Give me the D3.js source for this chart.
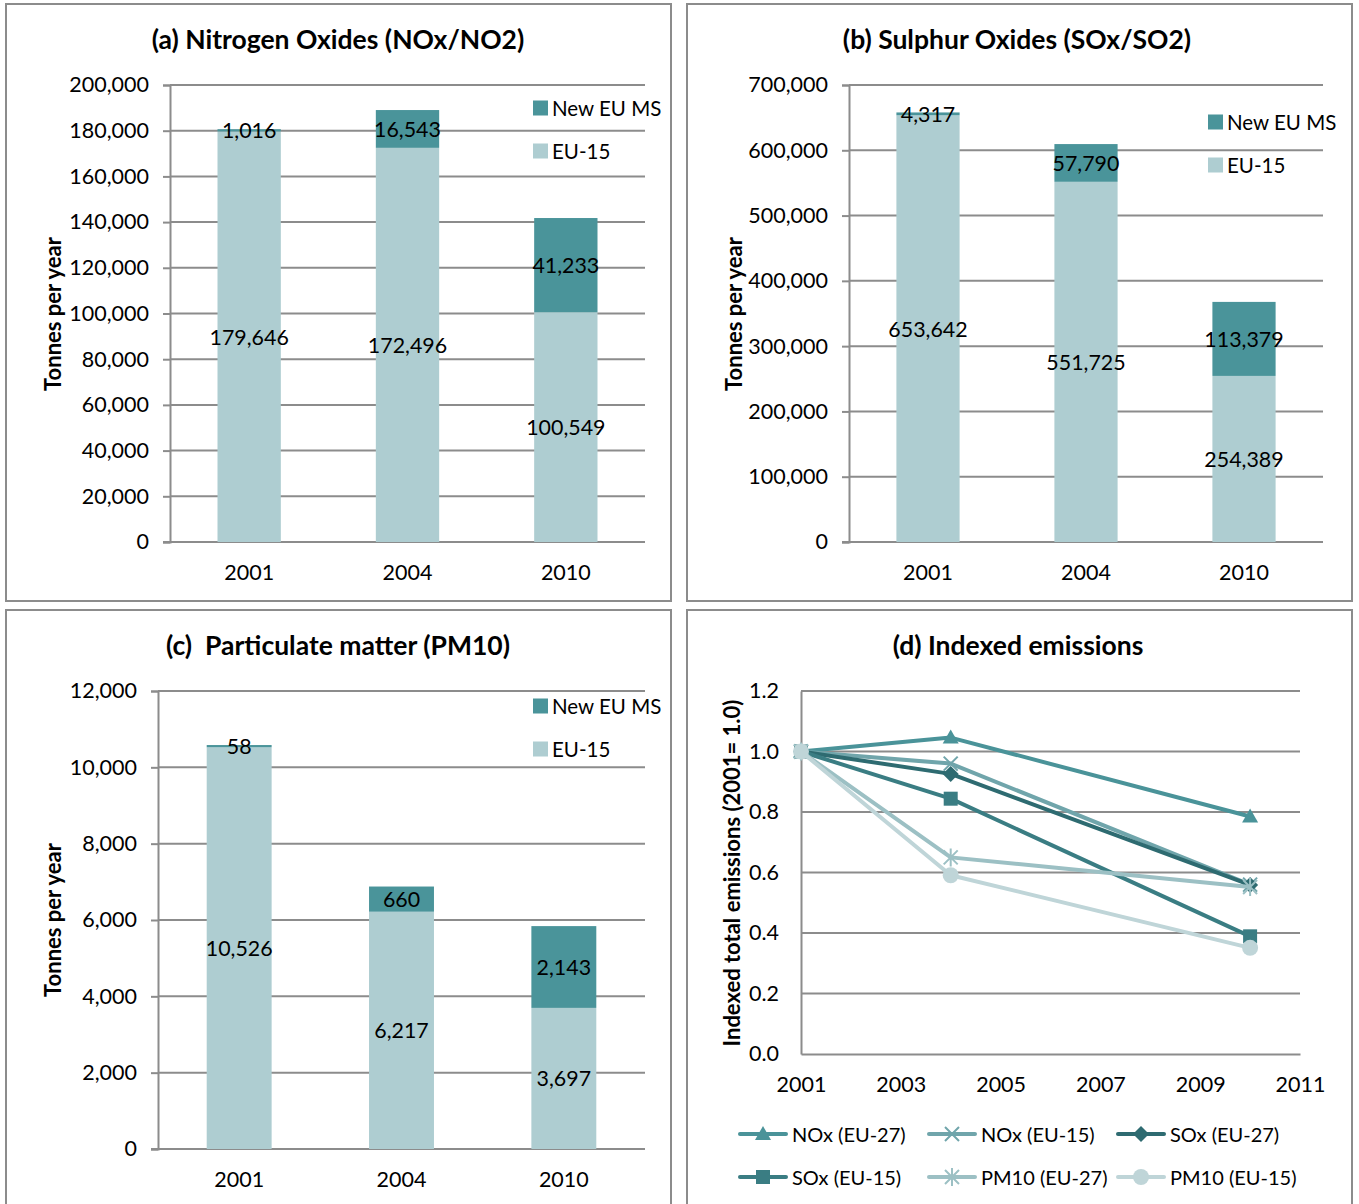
<!DOCTYPE html>
<html>
<head>
<meta charset="utf-8">
<script src="https://cdn.jsdelivr.net/npm/d3@7"></script>
<style>
  html, body { margin: 0; padding: 0; background: #fff; }
  svg { display: block; font-family: Lato, "Open Sans", sans-serif; }
  text { white-space: pre; }
</style>
</head>
<body>
<svg id="chart" width="1359" height="1204"></svg>
<script>
// ---- data ----
const years = ["2001", "2004", "2010"];

const noxEU15 = [179646, 172496, 100549];
const noxNewMS = [1016, 16543, 41233];
const noxTicks = [0, 20000, 40000, 60000, 80000, 100000, 120000, 140000, 160000, 180000, 200000];

const soxEU15 = [653642, 551725, 254389];
const soxNewMS = [4317, 57790, 113379];
const soxTicks = [0, 100000, 200000, 300000, 400000, 500000, 600000, 700000];

const pmEU15 = [10526, 6217, 3697];
const pmNewMS = [58, 660, 2143];
const pmTicks = [0, 2000, 4000, 6000, 8000, 10000, 12000];

const indexYears = [2001, 2004, 2010];
const indexSeries = ["NOx (EU-27)", "NOx (EU-15)", "SOx (EU-27)", "SOx (EU-15)", "PM10 (EU-27)", "PM10 (EU-15)"];
const noxEU27Index = [1.0, 1.046, 0.785];
const noxEU15Index = [1.0, 0.960, 0.560];
const soxEU27Index = [1.0, 0.926, 0.559];
const soxEU15Index = [1.0, 0.844, 0.389];
const pm10EU27Index = [1.0, 0.650, 0.552];
const pm10EU15Index = [1.0, 0.591, 0.351];
const indexYTicks = [0, 0.2, 0.4, 0.6, 0.8, 1.0, 1.2];
const indexXTicks = [2001, 2003, 2005, 2007, 2009, 2011];

// ---- styling ----
const COL_NEW = "#4a949a";
const COL_EU15 = "#aecdd1";
const GRID = "#8c8c8c";
const FRAME = "#8c8c8c";
const TEXT = "#000";
const TICK_FS = 21.5;
const LABEL_FS = 21.4;

const svg = d3.select("#chart");
const fmt = d3.format(",");

function frame(x, y, w, h) {
  svg.append("rect").attr("x", x).attr("y", y).attr("width", w).attr("height", h)
    .attr("fill", "#fff").attr("stroke", FRAME).attr("stroke-width", 2);
}

function title(txt, cx, cy) {
  svg.append("text").attr("x", cx).attr("y", cy).attr("text-anchor", "middle")
    .attr("dominant-baseline", "central").attr("font-weight", 700)
    .attr("font-size", 26.5).attr("fill", TEXT).text(txt);
}

function yTitle(txt, cx, cy) {
  svg.append("text").attr("transform", `translate(${cx},${cy}) rotate(-90)`)
    .attr("text-anchor", "middle").attr("dominant-baseline", "central")
    .attr("font-weight", 700).attr("font-size", 22).attr("fill", TEXT).text(txt);
}

// Stacked bar panel: EU-15 at the base, new member states on top
function barPanel(opt) {
  const g = svg.append("g");
  const x = d3.scaleBand().domain(years).range([opt.x0, opt.x1]).paddingInner(0.6).paddingOuter(0.3);
  const y = d3.scaleLinear().domain([0, opt.max]).range([opt.yb, opt.yt]);

  // gridlines
  g.append("g").selectAll("line").data(opt.ticks.slice(1)).join("line")
    .attr("x1", opt.x0).attr("x2", opt.x1)
    .attr("y1", d => y(d)).attr("y2", d => y(d))
    .attr("stroke", GRID).attr("stroke-width", 2);

  // y axis
  const ya = g.append("g").attr("transform", `translate(${opt.x0},0)`)
    .call(d3.axisLeft(y).tickValues(opt.ticks).tickFormat(fmt).tickSize(7).tickPadding(14));
  ya.select(".domain").attr("stroke", GRID).attr("stroke-width", 2);
  ya.selectAll(".tick line").attr("stroke", GRID).attr("stroke-width", 2);
  ya.selectAll(".tick text").attr("font-size", TICK_FS).attr("fill", TEXT).attr("font-family", "Lato, sans-serif");

  // x axis
  const xa = g.append("g").attr("transform", `translate(0,${opt.yb})`)
    .call(d3.axisBottom(x).tickSize(0).tickPadding(23));
  xa.select(".domain").attr("stroke", GRID).attr("stroke-width", 2)
    .attr("d", `M${opt.x0 - 7},0H${opt.x1}`);
  xa.selectAll(".tick text").attr("font-size", TICK_FS).attr("fill", TEXT).attr("font-family", "Lato, sans-serif");

  const rows = years.map((yr, i) => ({ yr, base: opt.eu15[i], top: opt.newMS[i] }));

  g.append("g").selectAll("rect").data(rows).join("rect")
    .attr("x", d => x(d.yr)).attr("width", x.bandwidth())
    .attr("y", d => y(d.base)).attr("height", d => y(0) - y(d.base))
    .attr("fill", COL_EU15);
  g.append("g").selectAll("rect").data(rows).join("rect")
    .attr("x", d => x(d.yr)).attr("width", x.bandwidth())
    .attr("y", d => y(d.base + d.top)).attr("height", d => y(d.base) - y(d.base + d.top))
    .attr("fill", COL_NEW);

  // value labels centred in each segment
  const lab = g.append("g").attr("font-size", LABEL_FS).attr("fill", TEXT)
    .attr("text-anchor", "middle").attr("dominant-baseline", "central");
  lab.selectAll("text.b").data(rows).join("text").attr("class", "b")
    .attr("x", d => x(d.yr) + x.bandwidth() / 2).attr("y", d => y(d.base / 2))
    .text(d => fmt(d.base));
  lab.selectAll("text.t").data(rows).join("text").attr("class", "t")
    .attr("x", d => x(d.yr) + x.bandwidth() / 2).attr("y", d => y(d.base + d.top / 2))
    .text(d => fmt(d.top));

  // legend
  const lg = g.append("g");
  [["New EU MS", COL_NEW], ["EU-15", COL_EU15]].forEach(([t, c], i) => {
    const ly = opt.legY + i * opt.legGap;
    lg.append("rect").attr("x", opt.legX).attr("y", ly - 7.5).attr("width", 15).attr("height", 15).attr("fill", c);
    lg.append("text").attr("x", opt.legX + 19).attr("y", ly).attr("dominant-baseline", "central")
      .attr("font-size", 20.5).attr("fill", TEXT).text(t);
  });
}

// ---- panel (a) ----
frame(6, 4, 665, 597);
title("(a) Nitrogen Oxides (NOx/NO2)", 338, 39);
yTitle("Tonnes per year", 52, 314);
barPanel({ x0: 170, x1: 645, yt: 85, yb: 542, max: 200000, ticks: noxTicks,
  eu15: noxEU15, newMS: noxNewMS, legX: 533, legY: 108, legGap: 43 });

// ---- panel (b) ----
frame(687, 4, 665, 597);
title("(b) Sulphur Oxides (SOx/SO2)", 1017, 39);
yTitle("Tonnes per year", 733, 314);
barPanel({ x0: 849, x1: 1323, yt: 85, yb: 542, max: 700000, ticks: soxTicks,
  eu15: soxEU15, newMS: soxNewMS, legX: 1208, legY: 122, legGap: 43 });

// ---- panel (c) ----
frame(6, 610, 665, 610);
title("(c)  Particulate matter (PM10)", 338, 645);
yTitle("Tonnes per year", 52, 920);
barPanel({ x0: 158, x1: 645, yt: 691, yb: 1149, max: 12000, ticks: pmTicks,
  eu15: pmEU15, newMS: pmNewMS, legX: 533, legY: 706, legGap: 43 });

// ---- panel (d) ----
frame(687, 610, 665, 610);
title("(d) Indexed emissions", 1018, 645);
yTitle("Indexed total emissions (2001= 1.0)", 731, 873);

(function indexPanel() {
  const g = svg.append("g");
  const x0 = 801, x1 = 1300, yt = 691, yb = 1054;
  const x = d3.scaleLinear().domain([2001, 2011]).range([x0, x1]);
  const y = d3.scaleLinear().domain([0, 1.2]).range([yb, yt]);

  g.append("g").selectAll("line").data(indexYTicks.slice(1)).join("line")
    .attr("x1", x0).attr("x2", x1).attr("y1", d => y(d)).attr("y2", d => y(d))
    .attr("stroke", GRID).attr("stroke-width", 2);

  const ya = g.append("g").attr("transform", `translate(${x0},0)`)
    .call(d3.axisLeft(y).tickValues(indexYTicks).tickFormat(d3.format(".1f")).tickSize(0).tickPadding(22));
  ya.select(".domain").attr("stroke", GRID).attr("stroke-width", 2);
  ya.selectAll(".tick text").attr("font-size", TICK_FS).attr("fill", TEXT).attr("font-family", "Lato, sans-serif");

  const xa = g.append("g").attr("transform", `translate(0,${yb})`)
    .call(d3.axisBottom(x).tickValues(indexXTicks).tickFormat(d3.format("d")).tickSize(0).tickPadding(23));
  xa.select(".domain").attr("stroke", GRID).attr("stroke-width", 2);
  xa.selectAll(".tick text").attr("font-size", TICK_FS).attr("fill", TEXT).attr("font-family", "Lato, sans-serif");

  const series = [
    { name: indexSeries[0], vals: noxEU27Index, color: "#4a9399", sym: "triangle" },
    { name: indexSeries[1], vals: noxEU15Index, color: "#70a5ab", sym: "x" },
    { name: indexSeries[2], vals: soxEU27Index, color: "#2e6b71", sym: "diamond" },
    { name: indexSeries[3], vals: soxEU15Index, color: "#3a7d83", sym: "square" },
    { name: indexSeries[4], vals: pm10EU27Index, color: "#9cc0c4", sym: "asterisk" },
    { name: indexSeries[5], vals: pm10EU15Index, color: "#bfd5d8", sym: "circle" }
  ];

  function marker(sel, sym, color, cx, cy) {
    const m = sel.append("g").attr("transform", `translate(${cx},${cy})`);
    if (sym === "triangle") {
      m.append("path").attr("d", "M0,-8L8,6H-8Z").attr("fill", color);
    } else if (sym === "diamond") {
      m.append("path").attr("d", "M0,-8L8,0L0,8L-8,0Z").attr("fill", color);
    } else if (sym === "square") {
      m.append("rect").attr("x", -7).attr("y", -7).attr("width", 14).attr("height", 14).attr("fill", color);
    } else if (sym === "circle") {
      m.append("circle").attr("r", 8).attr("fill", color);
    } else if (sym === "x") {
      m.append("path").attr("d", "M-7,-7L7,7M-7,7L7,-7").attr("stroke", color).attr("stroke-width", 2).attr("fill", "none");
    } else if (sym === "asterisk") {
      m.append("path").attr("d", "M-7,-7L7,7M-7,7L7,-7M0,-9V9").attr("stroke", color).attr("stroke-width", 2).attr("fill", "none");
    }
  }

  const line = d3.line().x(d => x(d.yr)).y(d => y(d.v));
  series.forEach(s => {
    const pts = indexYears.map((yr, i) => ({ yr, v: s.vals[i] }));
    g.append("path").datum(pts).attr("d", line).attr("fill", "none")
      .attr("stroke", s.color).attr("stroke-width", 4).attr("stroke-linejoin", "round");
    pts.forEach(p => marker(g, s.sym, s.color, x(p.yr), y(p.v)));
  });

  // legend: two rows of three
  const legX = [740, 929, 1118];
  const legY = [1134, 1177];
  series.forEach((s, i) => {
    const lx = legX[i % 3], ly = legY[Math.floor(i / 3)];
    g.append("line").attr("x1", lx).attr("x2", lx + 46).attr("y1", ly).attr("y2", ly)
      .attr("stroke", s.color).attr("stroke-width", 4).attr("stroke-linecap", "round");
    marker(g, s.sym, s.color, lx + 23, ly);
    g.append("text").attr("x", lx + 52).attr("y", ly).attr("dominant-baseline", "central")
      .attr("font-size", 20).attr("fill", TEXT).text(s.name);
  });
})();
</script>
</body>
</html>
